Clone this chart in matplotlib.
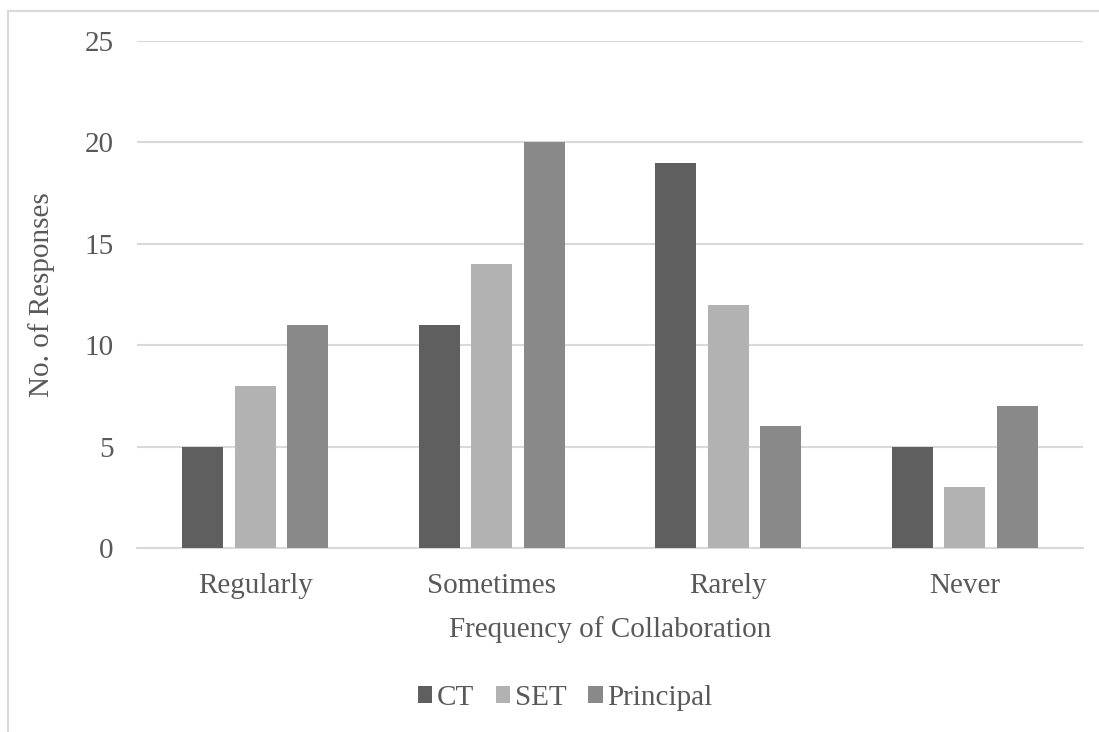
import numpy as np
import matplotlib
matplotlib.use("Agg")
import matplotlib.pyplot as plt
from matplotlib.lines import Line2D

categories = ["Regularly", "Sometimes", "Rarely", "Never"]
ct = [5, 11, 19, 5]
set_ = [8, 14, 12, 3]
principal = [11, 20, 6, 7]
series_names = ["CT", "SET", "Principal"]
colors = ["#5f5f5f", "#b2b2b2", "#898989"]

plt.rcParams["font.family"] = ["Liberation Serif", "DejaVu Serif"]
txt = "#595959"

fig = plt.figure(figsize=(10.99, 7.32), dpi=100)
ax = fig.add_axes([0.1247, 0.2514, 0.8607, 0.6926])

x = np.arange(len(categories))
w = 0.173
step = 0.222
for i, (vals, name, c) in enumerate(zip([ct, set_, principal], series_names, colors)):
    ax.bar(x + (i - 1) * step, vals, width=w, color=c, label=name, zorder=3)

ax.set_xlim(-0.5, len(categories) - 0.5)
ax.set_ylim(0, 25)
ax.set_yticks(range(0, 26, 5))
ax.set_xticks(x)
ax.set_xticklabels(categories)
ax.grid(axis="y", color="#d9d9d9", lw=1.5, zorder=0)
for s in ["top", "right", "left"]:
    ax.spines[s].set_visible(False)
ax.spines["bottom"].set_color("#d9d9d9")
ax.spines["bottom"].set_linewidth(1.5)
ax.tick_params(axis="both", length=0, labelsize=21, colors=txt)
ax.tick_params(axis="y", pad=17)
ax.tick_params(axis="x", pad=18)
ax.set_xlabel("Frequency of Collaboration", fontsize=21, color=txt, labelpad=12)
ax.set_ylabel("No. of Responses", fontsize=21, color=txt, labelpad=21)

leg = fig.legend(loc="center", bbox_to_anchor=(0.514, 0.047), ncol=3, frameon=False,
                 fontsize=21, handlelength=0.5, handleheight=0.5, handletextpad=0.15,
                 columnspacing=0.75, labelcolor=txt)

# chart frame (partially cropped in the original)
fig.add_artist(Line2D([0.0077, 0.0077], [0, 0.985], transform=fig.transFigure, color="#d9d9d9", lw=1.5))
fig.add_artist(Line2D([0.0077, 1], [0.985, 0.985], transform=fig.transFigure, color="#d9d9d9", lw=1.5))

fig.savefig("out.png", dpi=100)
